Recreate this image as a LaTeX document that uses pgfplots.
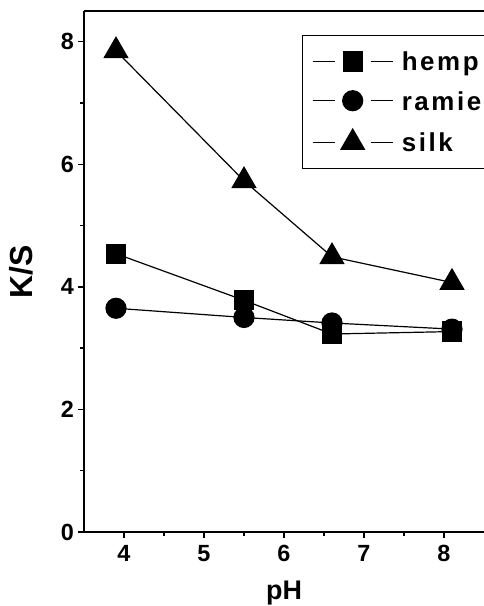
\documentclass[border=0pt]{standalone}
\usepackage{pgfplots}
\pgfplotsset{compat=1.18}
\usepackage{fontspec}
\setmainfont{Liberation Sans}
\newfontfamily\legfont[LetterSpace=10]{Liberation Sans}
\begin{document}
\begin{tikzpicture}
\begin{axis}[
  at={(0bp,0bp)}, anchor=south west,
  scale only axis, width=400bp, height=521bp,
  xmin=3.5, xmax=8.5, ymin=0, ymax=8.5,
  xtick={4,5,6,7,8}, ytick={0,2,4,6,8},
  minor tick num=1,
  tick align=outside,
  axis x line*=box, axis y line*=left,
  xtick pos=left, ytick pos=left,
  major tick length=6bp, minor tick length=4bp,
  axis line style={line width=1.6bp},
  every tick/.style={line width=1.4bp, black},
  /pgf/number format/assume math mode=true,
  tick label style={font=\fontsize{23.5}{24}\selectfont\bfseries},
  yticklabel style={inner sep=0pt, anchor=east, xshift=-4bp},
  xticklabel style={inner sep=0pt, anchor=north, yshift=-7bp},
  xlabel={pH}, ylabel={K/S},
  every axis x label/.style={at={(axis description cs:0.5,0)}, yshift=-61bp, anchor=center, font=\fontsize{27}{27}\selectfont\bfseries},
  every axis y label/.style={at={(axis description cs:0,0.5)}, xshift=-63bp, rotate=90, anchor=center, font=\fontsize{32}{32}\selectfont\bfseries},
  legend style={at={(0.545,0.954)}, anchor=north west, draw=black, line width=1.2bp,
    font=\legfont\fontsize{26}{26}\selectfont\bfseries, inner xsep=9.5bp, inner ysep=15bp,
    row sep=17.5bp, column sep=7bp, nodes={inner sep=1.5bp, text depth=0pt}},
  legend cell align=left,
  legend image code/.code={
    \draw[#1, mark=none] (0bp,0bp) -- (22bp,0bp);
    \draw[#1, mark=none] (58bp,0bp) -- (80bp,0bp);
    \draw[#1] plot coordinates {(40bp,0bp)};
  },
  every axis plot/.append style={black, line width=1.2bp, mark options={solid, fill=black}},
]
\addplot[mark=square*, mark size=9.5bp] coordinates {(3.9,4.54) (5.5,3.78) (6.6,3.23) (8.1,3.27)};
\addlegendentry{\makebox[100bp][l]{hemp}}
\addplot[mark=*, mark size=10bp] coordinates {(3.9,3.65) (5.5,3.50) (6.6,3.41) (8.1,3.31)};
\addlegendentry{\makebox[100bp][l]{ramie}}
\addplot[mark=triangle*, mark size=13.5bp] coordinates {(3.9,7.85) (5.5,5.73) (6.6,4.49) (8.1,4.07)};
\addlegendentry{\makebox[100bp][l]{silk}}
\end{axis}
\pgfresetboundingbox
\path (-84bp,-74bp) rectangle (400bp,532bp);
\end{tikzpicture}
\end{document}
